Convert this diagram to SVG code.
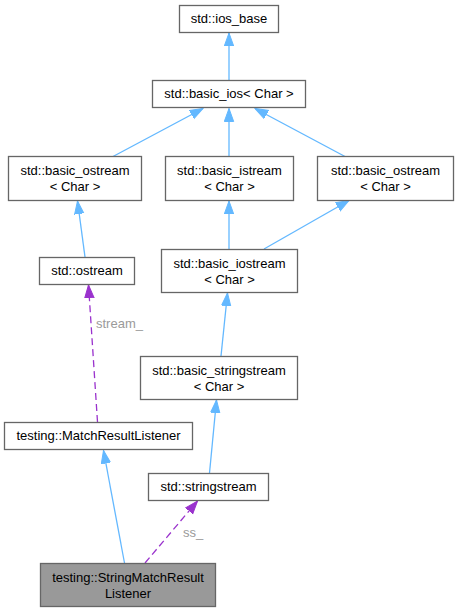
<svg xmlns="http://www.w3.org/2000/svg" width="456" height="612" viewBox="0 0 456 612">
<style>
.n rect{fill:#ffffff;stroke:#666666;stroke-width:1.3}
.n.h rect{fill:#999999}
text{font-family:"Liberation Sans",Arial,sans-serif;font-size:13px;text-anchor:middle;fill:#000000}
.e{fill:none;stroke-width:1.3}
.b{stroke:#63b8ff}
.p{stroke:#9a32cd;stroke-dasharray:7,4}
.lbl{fill:#9a9a9a;text-anchor:start}
</style>
<defs>
<marker id="ab" markerUnits="userSpaceOnUse" markerWidth="16" markerHeight="12" refX="13" refY="5" orient="auto" viewBox="0 0 16 12">
<path d="M0,0.3 L13,5 L0,9.7 z" fill="#63b8ff" stroke="#63b8ff" stroke-width="1"/>
</marker>
<marker id="ap" markerUnits="userSpaceOnUse" markerWidth="16" markerHeight="12" refX="13" refY="5" orient="auto" viewBox="0 0 16 12">
<path d="M0,0.3 L13,5 L0,9.7 z" fill="#9a32cd" stroke="#9a32cd" stroke-width="1"/>
</marker>
</defs>
<g id="connectors">
<path class="e b" d="M229,80 L229,33" marker-end="url(#ab)"/>
<path class="e b" d="M113,156.5 L203,108.5" marker-end="url(#ab)"/>
<path class="e b" d="M229,156.5 L229,108.5" marker-end="url(#ab)"/>
<path class="e b" d="M345,156.5 L255,108.5" marker-end="url(#ab)"/>
<path class="e b" d="M85,257 L77.5,201" marker-end="url(#ab)"/>
<path class="e b" d="M229,249 L229,201" marker-end="url(#ab)"/>
<path class="e b" d="M264,249 L349,200.5" marker-end="url(#ab)"/>
<path class="e b" d="M221,356 L227.5,293" marker-end="url(#ab)"/>
<path class="e b" d="M209.5,473 L216.5,400" marker-end="url(#ab)"/>
<path class="e b" d="M124.5,563 L103.5,450.5" marker-end="url(#ab)"/>
<path class="e p" d="M97.5,422 L88.5,285" marker-end="url(#ap)"/>
<path class="e p" d="M145,563 L197.5,501" marker-end="url(#ap)"/>
<text class="lbl" x="96" y="328">stream_</text>
<text class="lbl" x="183" y="537">ss_</text>
</g>
<g id="ios_base" class="n"><rect x="179.5" y="5.5" width="99" height="27"/><text x="229" y="23">std::ios_base</text></g>
<g id="basic_ios" class="n"><rect x="152.5" y="80.5" width="153" height="27"/><text x="229" y="98">std::basic_ios&lt; Char &gt;</text></g>
<g id="basic_ostream_l" class="n"><rect x="8.5" y="156.5" width="133" height="44"/><text x="75" y="175">std::basic_ostream</text><text x="75" y="191">&lt; Char &gt;</text></g>
<g id="basic_istream" class="n"><rect x="165.5" y="156.5" width="128" height="44"/><text x="229.5" y="175">std::basic_istream</text><text x="229.5" y="191">&lt; Char &gt;</text></g>
<g id="basic_ostream_r" class="n"><rect x="317.5" y="156.5" width="136" height="44"/><text x="385.5" y="175">std::basic_ostream</text><text x="385.5" y="191">&lt; Char &gt;</text></g>
<g id="ostream" class="n"><rect x="39.5" y="257.5" width="95" height="27"/><text x="87" y="275">std::ostream</text></g>
<g id="basic_iostream" class="n"><rect x="161.5" y="249.5" width="136" height="43"/><text x="229.5" y="268">std::basic_iostream</text><text x="229.5" y="284">&lt; Char &gt;</text></g>
<g id="basic_stringstream" class="n"><rect x="140.5" y="356.5" width="157" height="43"/><text x="219" y="375">std::basic_stringstream</text><text x="219" y="391">&lt; Char &gt;</text></g>
<g id="MatchResultListener" class="n"><rect x="4.5" y="422.5" width="188" height="27"/><text x="98.5" y="440">testing::MatchResultListener</text></g>
<g id="stringstream" class="n"><rect x="148.5" y="473.5" width="120" height="27"/><text x="208.5" y="491">std::stringstream</text></g>
<g id="StringMatchResultListener" class="n h"><rect x="40.5" y="563.5" width="175" height="43"/><text x="128" y="582">testing::StringMatchResult</text><text x="128" y="598">Listener</text></g>
</svg>
